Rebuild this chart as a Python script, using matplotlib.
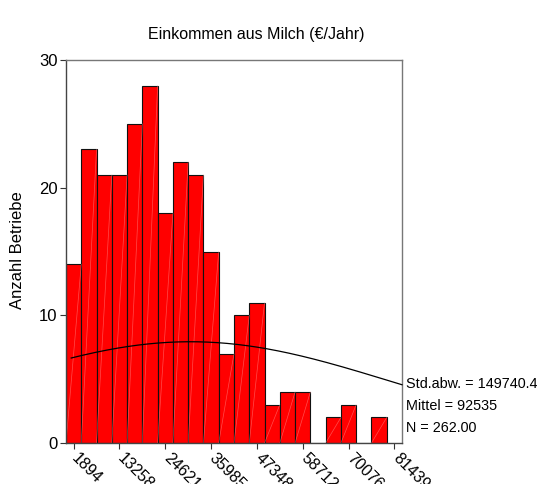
import numpy as np
import matplotlib
matplotlib.use("Agg")
import matplotlib.pyplot as plt
from matplotlib.transforms import ScaledTranslation, blended_transform_factory

plt.rcParams['font.family'] = ['Liberation Sans', 'DejaVu Sans']

# Histogram counts per class (class width in axis units)
counts = [14, 23, 21, 21, 25, 28, 18, 22, 21, 15, 7, 10, 11, 3, 4, 4, 0, 2, 3, 0, 2]
first_center = 1894
bin_width = 3787.8
n_slots = 22
tick_labels = ["1894", "13258", "24621", "35985", "47348", "58712", "70076", "81439"]

# Summary statistics shown beside the plot
std_dev = 149740.4
mean = 92535
n_total = 262
# axis values are one third of the reported units
axis_scale = 3.0

title = "Einkommen aus Milch (\u20ac/Jahr)"
ylabel = "Anzahl Betriebe"

fig = plt.figure(figsize=(5.37, 4.84), dpi=100)
ax = fig.add_axes([66 / 537, 41 / 484, 336 / 537, 383 / 484])

centers = first_center + bin_width * np.arange(len(counts))
ax.bar(centers, counts, width=bin_width, color="#ff0000", edgecolor="#111111",
       linewidth=0.8, zorder=2)
# faint seam from lower-left to upper-right of each bar
for c, h in zip(centers, counts):
    if h > 0:
        ax.plot([c - bin_width / 2, c + bin_width / 2], [0, h], color="#ff9a9a",
                linewidth=0.5, alpha=0.5, zorder=2.5)

left_edge = first_center - bin_width / 2
right_edge = left_edge + n_slots * bin_width

# normal curve from the reported mean and standard deviation
mu = mean / axis_scale
sd = std_dev / axis_scale
xs = np.linspace(1300, right_edge, 300)
ys = n_total * bin_width * np.exp(-0.5 * ((xs - mu) / sd) ** 2) / (sd * np.sqrt(2 * np.pi))
ax.plot(xs, ys, color="black", linewidth=0.9, zorder=3, clip_on=False)

ax.set_xlim(left_edge, right_edge)
ax.set_ylim(0, 30)
ax.set_yticks([0, 10, 20, 30])
tick_pos = [first_center + 3 * bin_width * i for i in range(len(tick_labels))]
ax.set_xticks(tick_pos)
ax.set_xticklabels([])
# slanted class labels, placed just right of and below each tick
trans = blended_transform_factory(ax.transData, ax.transAxes) + \
    ScaledTranslation(6 / 100, -8 / 100, fig.dpi_scale_trans)
for x, lab in zip(tick_pos, tick_labels):
    ax.text(x, 0, lab, transform=trans, rotation=-45, rotation_mode="anchor",
            ha="left", va="top", fontsize=11.5, clip_on=False)
ax.tick_params(axis="y", labelsize=12, length=4, width=0.8, pad=2, color="#333333")
ax.tick_params(axis="x", length=4, width=0.8, pad=4, color="#333333")

for side, sp in ax.spines.items():
    sp.set_linewidth(1.0)
    sp.set_color("#444444" if side in ("left", "bottom") else "#777777")

fig.text(256 / 537, 1 - 35 / 484, title, ha="center", va="center", fontsize=11.5)
fig.text(18 / 537, 1 - 250 / 484, ylabel, rotation=90, ha="center", va="center",
         fontsize=12)

stats = [f"Std.abw. = {std_dev:.1f}", f"Mittel = {mean}", f"N = {n_total:.2f}"]
for i, s in enumerate(stats):
    fig.text(406 / 537, 1 - (384 + 22 * i) / 484, s, ha="left", va="center",
             fontsize=10.4)

fig.savefig("out.png", dpi=100)
